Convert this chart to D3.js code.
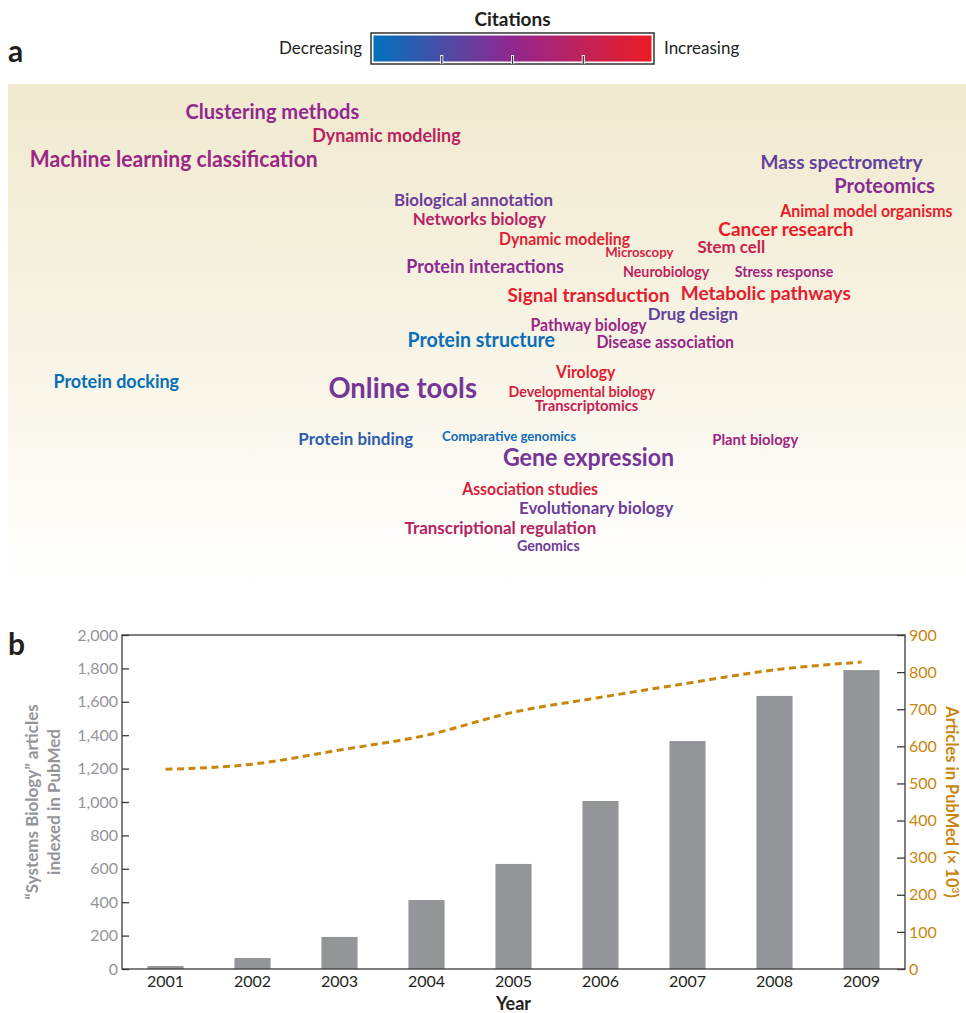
<!DOCTYPE html>
<html>
<head>
<meta charset="utf-8">
<script src="https://cdn.jsdelivr.net/npm/d3@7"></script>
<style>
  body { margin: 0; background: #fff; }
  svg { display: block; font-family: Lato, "Open Sans", sans-serif; }
</style>
</head>
<body>
<svg width="966" height="1013"></svg>
<script>
// ---- panel a: topics, citation trend (0 = decreasing, 1 = increasing), frequency weight
const topics = [
  "Clustering methods", "Dynamic modeling", "Machine learning classification",
  "Mass spectrometry", "Proteomics", "Biological annotation", "Animal model organisms",
  "Networks biology", "Cancer research", "Dynamic modeling", "Stem cell", "Microscopy",
  "Protein interactions", "Neurobiology", "Stress response", "Signal transduction",
  "Metabolic pathways", "Drug design", "Pathway biology", "Protein structure",
  "Disease association", "Protein docking", "Online tools", "Virology",
  "Developmental biology", "Transcriptomics", "Protein binding", "Comparative genomics",
  "Plant biology", "Gene expression", "Association studies", "Evolutionary biology",
  "Transcriptional regulation", "Genomics"
];
const citationTrend = [
  0.50, 0.72, 0.55, 0.34, 0.47, 0.37, 0.97, 0.70, 0.98, 0.93, 0.80, 0.85,
  0.48, 0.75, 0.58, 0.96, 0.96, 0.33, 0.54, 0.03, 0.53, 0.02, 0.40, 0.95,
  0.86, 0.78, 0.15, 0.05, 0.57, 0.40, 0.88, 0.37, 0.70, 0.37
];
const topicWeight = [
  19, 17, 20, 18, 19, 16, 15, 16, 18, 15, 16, 12.5,
  17, 13.5, 13.5, 18, 18, 16, 15, 18.5, 15, 17, 26, 15,
  13.5, 14, 16, 12.5, 14, 22, 15, 16, 16, 13.5
];
// where each word sits in the cloud (fraction of panel width, baseline as fraction of panel height)
const cloudLayout = [
  [0.276, 0.070], [0.395, 0.116], [0.173, 0.166], [0.870, 0.170], [0.915, 0.218],
  [0.486, 0.244], [0.896, 0.265], [0.492, 0.281], [0.812, 0.303], [0.581, 0.321],
  [0.755, 0.337], [0.659, 0.345], [0.498, 0.377], [0.687, 0.385], [0.810, 0.385],
  [0.606, 0.435], [0.791, 0.431], [0.715, 0.471], [0.606, 0.493], [0.494, 0.525],
  [0.686, 0.527], [0.113, 0.607], [0.412, 0.627], [0.603, 0.587], [0.599, 0.625],
  [0.604, 0.653], [0.363, 0.721], [0.523, 0.713], [0.780, 0.721], [0.606, 0.762],
  [0.545, 0.820], [0.614, 0.858], [0.514, 0.898], [0.564, 0.932]
];

// ---- panel b
const years = ["2001", "2002", "2003", "2004", "2005", "2006", "2007", "2008", "2009"];
const sysBioArticles = [18, 66, 192, 413, 629, 1006, 1365, 1635, 1790];
const pubmedArticles = [538, 552, 590, 630, 692, 732, 770, 806, 827];

const svg = d3.select("svg");
const ink = "#231f20";
const gray = "#939598";
const gold = "#c8860d";
const fontScale = 1.1;
const condense = 0.96;

const citeColor = d3.scaleLinear()
  .domain([0, 0.5, 1])
  .range(["#0072bc", "#92278f", "#ed1c24"]);

const defs = svg.append("defs");
const lg = defs.append("linearGradient").attr("id", "citeGrad");
[0, 0.5, 1].forEach(t => lg.append("stop").attr("offset", t).attr("stop-color", citeColor(t)));
const bg = defs.append("linearGradient").attr("id", "panelGrad")
  .attr("x1", 0).attr("y1", 0).attr("x2", 0).attr("y2", 1);
bg.append("stop").attr("offset", 0).attr("stop-color", "#f0e9cf");
bg.append("stop").attr("offset", 0.55).attr("stop-color", "#f8f4e6");
bg.append("stop").attr("offset", 1).attr("stop-color", "#ffffff");

// panel letters
svg.append("text").attr("x", 8).attr("y", 62).text("a")
  .style("font-weight", 700).style("font-size", "30px").attr("fill", ink);
svg.append("text").attr("x", 8).attr("y", 655).text("b")
  .style("font-weight", 700).style("font-size", "30px").attr("fill", ink);

// ---- legend
const leg = { x0: 371, x1: 654, y0: 33, y1: 64 };
svg.append("text").attr("x", (leg.x0 + leg.x1) / 2).attr("y", 26)
  .attr("text-anchor", "middle").text("Citations")
  .style("font-weight", 700).style("font-size", "19px").attr("fill", ink);
svg.append("rect").attr("x", leg.x0).attr("y", leg.y0)
  .attr("width", leg.x1 - leg.x0).attr("height", leg.y1 - leg.y0)
  .attr("fill", "#fff").attr("stroke", "#333").attr("stroke-width", 1.5);
svg.append("rect").attr("x", leg.x0 + 2.5).attr("y", leg.y0 + 2.5)
  .attr("width", leg.x1 - leg.x0 - 5).attr("height", leg.y1 - leg.y0 - 5)
  .attr("fill", "url(#citeGrad)");
const legScale = d3.scaleLinear().domain([0, 1]).range([leg.x0, leg.x1]);
svg.selectAll(".legtick").data([0.25, 0.5, 0.75]).join("line")
  .attr("x1", d => legScale(d)).attr("x2", d => legScale(d))
  .attr("y1", leg.y1 - 9).attr("y2", leg.y1)
  .attr("stroke", "#fff").attr("stroke-width", 3);
svg.selectAll(".legtick2").data([0.25, 0.5, 0.75]).join("line")
  .attr("x1", d => legScale(d)).attr("x2", d => legScale(d))
  .attr("y1", leg.y1 - 8).attr("y2", leg.y1)
  .attr("stroke", "#333").attr("stroke-width", 1.3);
svg.append("text").attr("x", leg.x0 - 9).attr("y", 54).attr("text-anchor", "end")
  .text("Decreasing").style("font-size", "17px").attr("fill", ink);
svg.append("text").attr("x", leg.x1 + 10).attr("y", 54)
  .text("Increasing").style("font-size", "17px").attr("fill", ink);

// ---- word cloud
const panel = { x: 8, y: 84, w: 958, h: 501 };
svg.append("rect").attr("x", panel.x).attr("y", panel.y)
  .attr("width", panel.w).attr("height", panel.h).attr("fill", "url(#panelGrad)");
const cx = d3.scaleLinear().domain([0, 1]).range([panel.x, panel.x + panel.w]);
const cy = d3.scaleLinear().domain([0, 1]).range([panel.y, panel.y + panel.h]);

const words = topics.map((t, i) => ({ text: t, trend: citationTrend[i], weight: topicWeight[i], pos: cloudLayout[i] }));
svg.append("g").selectAll("text").data(words).join("text")
  .attr("x", d => cx(d.pos[0]))
  .attr("y", d => cy(d.pos[1]))
  .attr("text-anchor", "middle")
  .style("font-weight", 700)
  .style("font-size", d => (d.weight * fontScale) + "px")
  .attr("fill", d => citeColor(d.trend))
  .text(d => d.text)
  .each(function () {
    const len = this.getComputedTextLength();
    d3.select(this).attr("textLength", len * condense).attr("lengthAdjust", "spacingAndGlyphs");
  });

// ---- bar + line chart
const m = { left: 122, right: 905, top: 635, bottom: 969 };
const x = d3.scaleBand().domain(years).range([m.left, m.right])
  .paddingInner(0.585).paddingOuter(0.2925);
const yL = d3.scaleLinear().domain([0, 2000]).range([m.bottom, m.top]);
const yR = d3.scaleLinear().domain([0, 900]).range([m.bottom, m.top]);

svg.append("g").selectAll("rect").data(years).join("rect")
  .attr("x", d => x(d))
  .attr("width", x.bandwidth())
  .attr("y", (d, i) => yL(sysBioArticles[i]))
  .attr("height", (d, i) => yL(0) - yL(sysBioArticles[i]))
  .attr("fill", gray);

const line = d3.line()
  .x((d, i) => x(years[i]) + x.bandwidth() / 2)
  .y(d => yR(d))
  .curve(d3.curveMonotoneX);
svg.append("path").datum(pubmedArticles)
  .attr("d", line)
  .attr("fill", "none")
  .attr("stroke", gold)
  .attr("stroke-width", 3)
  .attr("stroke-dasharray", "7,4.5");

// frame
svg.append("rect").attr("x", m.left).attr("y", m.top)
  .attr("width", m.right - m.left).attr("height", m.bottom - m.top)
  .attr("fill", "none").attr("stroke", "#3b3b3b").attr("stroke-width", 1.3);

const axL = svg.append("g").attr("transform", `translate(${m.left},0)`)
  .call(d3.axisLeft(yL).tickValues(d3.range(0, 2001, 200)).tickFormat(d3.format(","))
    .tickSizeInner(-7).tickSizeOuter(0).tickPadding(4));
axL.select(".domain").remove();
axL.selectAll("line").attr("stroke", "#3b3b3b").attr("stroke-width", 1.3);
axL.selectAll("text").attr("fill", gray).style("font-size", "16px").style("font-family", "Lato");

const axR = svg.append("g").attr("transform", `translate(${m.right},0)`)
  .call(d3.axisRight(yR).tickValues(d3.range(0, 901, 100))
    .tickSizeInner(-8).tickSizeOuter(0).tickPadding(4));
axR.select(".domain").remove();
axR.selectAll("line").attr("stroke", "#3b3b3b").attr("stroke-width", 1.3);
axR.selectAll("text").attr("fill", gold).style("font-size", "16px").style("font-family", "Lato");

const axB = svg.append("g").attr("transform", `translate(0,${m.bottom})`)
  .call(d3.axisBottom(x).tickSize(0).tickPadding(7));
axB.select(".domain").remove();
axB.selectAll("text").attr("fill", ink).style("font-size", "16px").style("font-family", "Lato");

svg.append("text").attr("x", (m.left + m.right) / 2).attr("y", 1010)
  .attr("text-anchor", "middle").text("Year")
  .style("font-weight", 700).style("font-size", "18px").attr("fill", ink);

const midY = (m.top + m.bottom) / 2;
const leftTitle = svg.append("text")
  .attr("transform", `translate(38,${midY}) rotate(-90)`)
  .attr("text-anchor", "middle")
  .style("font-weight", 700).style("font-size", "17px").attr("fill", gray);
leftTitle.append("tspan").attr("x", 0).attr("dy", 0).text("\u201CSystems Biology\u201D articles");
leftTitle.append("tspan").attr("x", 0).attr("dy", 22).text("indexed in PubMed");

const rightTitle = svg.append("text")
  .attr("transform", `translate(946,${midY}) rotate(90)`)
  .attr("text-anchor", "middle")
  .style("font-weight", 700).style("font-size", "16.5px").attr("fill", gold);
rightTitle.append("tspan").text("Articles in PubMed (\u00D7 10");
rightTitle.append("tspan").attr("baseline-shift", "super").style("font-size", "10px").text("3");
rightTitle.append("tspan").text(")");
</script>
</body>
</html>
